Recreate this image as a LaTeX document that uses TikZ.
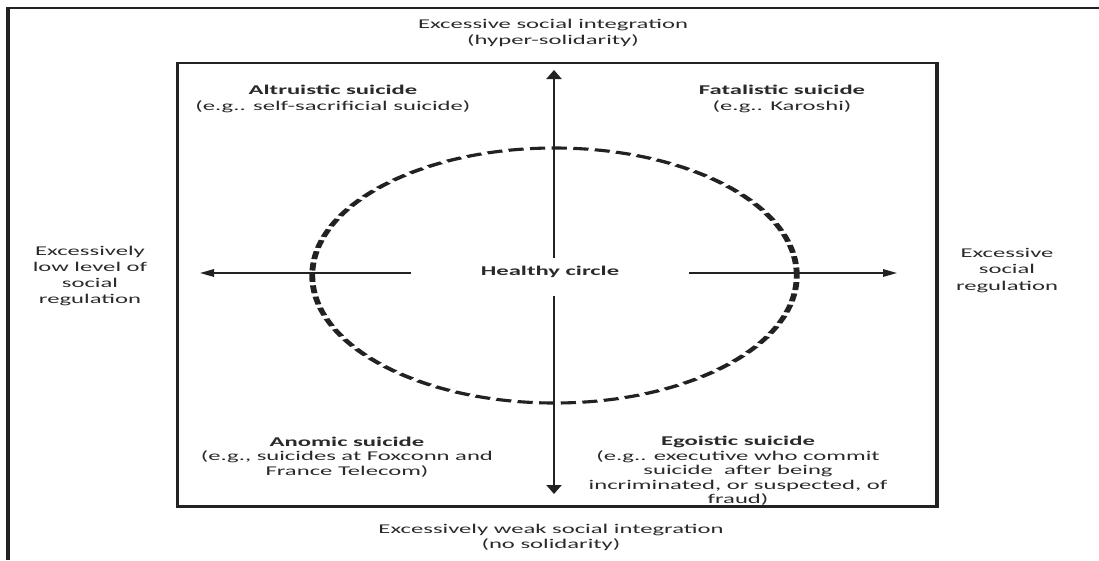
\documentclass[tikz,border=0pt]{standalone}
\usepackage{fontspec}
\setmainfont{Carlito}[FakeStretch=1.84]
\usetikzlibrary{arrows.meta}
\definecolor{ink}{HTML}{222222}
\definecolor{txt}{HTML}{2A2A2A}
\begin{document}
\begin{tikzpicture}[x=1pt,y=-1pt,
  lbl/.style={align=center, text=txt, inner sep=0pt, font=\fontsize{13.4}{15.5}\selectfont},
  tight/.style={font=\fontsize{13.4}{14.5}\selectfont},
  loose/.style={font=\fontsize{13.4}{16.2}\selectfont},
  vaxis/.style={draw=ink, line width=2.8pt, -{Triangle[length=9pt,width=15pt]}},
  haxis/.style={draw=ink, line width=1.6pt, -{Triangle[length=14pt,width=7.5pt]}},
  framev/.style={draw=ink, line width=3.5pt},
  frameh/.style={draw=ink, line width=2.2pt}]
\useasboundingbox (0,0) rectangle (1099,560);
% outer frame (left and top edges)
\draw[framev] (8,8) -- (8,560);
\draw[frameh] (6,8) -- (1099,8);
% inner box
\draw[frameh] (176,63) -- (938,63);
\draw[frameh] (176,506.5) -- (938,506.5);
\draw[framev] (177.5,62) -- (177.5,507.5);
\draw[framev] (937,62) -- (937,507.5);
% healthy circle (stretched)
\begin{scope}[transform canvas={shift={(554.5,275.5)}, xscale=1.9}]
  \draw[ink, line width=3.1pt, dash pattern=on 8pt off 3.4pt] (0,0) circle [radius=127.5pt];
\end{scope}
% labels
\node[lbl] (top) at (553,33) {Excessive social integration\\(hyper-solidarity)};
\node[lbl] (bot) at (551,537.5) {Excessively weak social integration\\(no solidarity)};
\node[lbl, loose] (lft) at (90,276) {Excessively\\low level of\\social\\regulation};
\node[lbl, loose] (rgt) at (1007,270.5) {Excessive\\social\\regulation};
\node[lbl] (alt) at (333,99) {\textbf{Altruistic suicide}\\(e.g.. self-sacrificial suicide)};
\node[lbl] (fat) at (782,99) {\textbf{Fatalistic suicide}\\(e.g.. Karoshi)};
\node[lbl, tight] (ano) at (347,457) {\textbf{Anomic suicide}\\(e.g., suicides at Foxconn and\\France Telecom)};
\node[lbl, tight] (ego) at (738,471) {\textbf{Egoistic suicide}\\(e.g.. executive who commit\\suicide\ \ after being\\incriminated, or suspected, of\\fraud)};
\node[lbl] (hc) at (550,272) {\textbf{Healthy circle}};
% axes
\coordinate (up0) at (554,258);
\coordinate (up1) at (554,70);
\coordinate (dn0) at (554,296);
\coordinate (dn1) at (554,494);
\coordinate (lf0) at (411,273);
\coordinate (lf1) at (200,273);
\coordinate (rt0) at (689,273);
\coordinate (rt1) at (897,273);
\draw[vaxis] (up0) -- (up1);
\draw[vaxis] (dn0) -- (dn1);
\draw[haxis] (lf0) -- (lf1);
\draw[haxis] (rt0) -- (rt1);
\end{tikzpicture}
\end{document}
